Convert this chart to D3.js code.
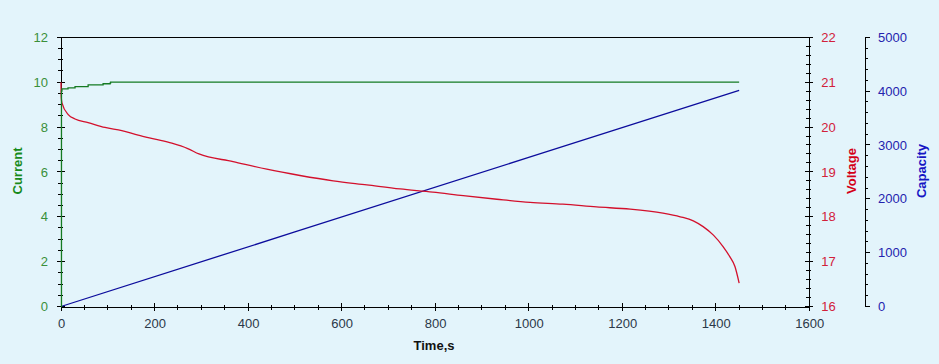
<!DOCTYPE html>
<html>
  <head>
    <title>Discharge curve</title>
    <script src="https://d3js.org/d3.v7.min.js"></script>
    <style>
      body { margin: 0; background: #e3f4fb; }
      svg { display: block; font-family: Arial, "Liberation Sans", sans-serif; }
    </style>
  </head>
  <body>
    <svg width="939" height="364"></svg>
    <script>
      // values
      const currentTime = [0, 1, 2, 15, 30, 58, 90, 105, 106, 1450];
      const current     = [0, 9.6, 9.7, 9.75, 9.8, 9.88, 9.93, 9.96, 10, 10];

      const voltageTime = [0, 0.5, 2, 16, 30, 58, 94, 130, 165, 201, 237, 271, 295,
                           368, 440, 511, 582, 654, 725, 795, 860, 932, 1003, 1073,
                           1145, 1217, 1287, 1324, 1352, 1373, 1395, 1416, 1430, 1441, 1450];
      const voltage     = [21.0, 20.67, 20.54, 20.27, 20.18, 20.10, 19.99, 19.92, 19.82, 19.73, 19.64, 19.52, 19.40,
                           19.23, 19.06, 18.92, 18.80, 18.71, 18.62, 18.55, 18.47, 18.39, 18.32, 18.28,
                           18.22, 18.17, 18.08, 18.00, 17.91, 17.78, 17.59, 17.33, 17.11, 16.89, 16.52];

      const capacityTime = [0, 500, 1000, 1450];
      const capacity     = [0, 1385, 2770, 4015];

      const timeTicks = [0, 200, 400, 600, 800, 1000, 1200, 1400, 1600];
      const currentTicks = [0, 2, 4, 6, 8, 10, 12];
      const voltageTicks = [16, 17, 18, 19, 20, 21, 22];
      const capacityTicks = [0, 1000, 2000, 3000, 4000, 5000];

      const svg = d3.select("svg");
      const plotL = 61, plotR = 809.3, plotT = 37.3, plotB = 306.5;

      const x = d3.scaleLinear().domain([0, 1600]).range([plotL, plotR]);
      const yCur = d3.scaleLinear().domain([0, 12]).range([plotB, plotT]);
      const yVolt = d3.scaleLinear().domain([16, 22]).range([plotB, plotT]);
      const yCap = d3.scaleLinear().domain([0, 5000]).range([plotB, plotT]);

      svg.append("rect").attr("width", 939).attr("height", 364).attr("fill", "#e3f4fb");

      // frame top line
      svg.append("line")
        .attr("x1", plotL).attr("x2", plotR).attr("y1", plotT).attr("y2", plotT)
        .attr("stroke", "#000").attr("shape-rendering", "crispEdges");

      function range(a, b, step) {
        const out = [];
        for (let v = a; v <= b + 1e-9; v += step) out.push(+v.toFixed(4));
        return out;
      }

      // vertical axis: ticks can stick out on both sides
      function vAxis(scale, xPos, majors, minorStep, opt) {
        const g = svg.append("g").attr("transform", `translate(${xPos},0)`);
        const axis = (opt.side === "left" ? d3.axisLeft(scale) : d3.axisRight(scale))
          .tickValues(majors).tickSize(0).tickPadding(opt.pad).tickFormat(d3.format("d"));
        g.call(axis);
        g.select(".domain").attr("stroke", "#000").attr("shape-rendering", "crispEdges");
        g.selectAll(".tick text").attr("fill", opt.color).style("font-size", "13px").style("font-family", "Arial, 'Liberation Sans', sans-serif");
        g.selectAll(".tick line").remove();
        const minors = range(scale.domain()[0], scale.domain()[1], minorStep)
          .filter(v => !majors.some(m => Math.abs(m - v) < 1e-6));
        g.selectAll(".maj").data(majors).join("line")
          .attr("x1", -opt.majL).attr("x2", opt.majR)
          .attr("y1", d => scale(d)).attr("y2", d => scale(d))
          .attr("stroke", "#000").attr("shape-rendering", "crispEdges");
        g.selectAll(".min").data(minors).join("line")
          .attr("x1", -opt.minL).attr("x2", opt.minR)
          .attr("y1", d => scale(d)).attr("y2", d => scale(d))
          .attr("stroke", "#000").attr("shape-rendering", "crispEdges");
        return g;
      }

      vAxis(yCur, plotL, currentTicks, 0.5, {side: "left", pad: 13, color: "#3a8f3a", majL: 4, majR: 4, minL: 3, minR: 2});
      vAxis(yVolt, plotR, voltageTicks, 0.2, {side: "right", pad: 12, color: "#d2203a", majL: 4, majR: 4, minL: 3, minR: 2});
      vAxis(yCap, 865, capacityTicks, 200, {side: "right", pad: 13, color: "#2323ae", majL: 0, majR: 5, minL: 0, minR: 3});

      // bottom axis
      const gx = svg.append("g").attr("transform", `translate(0,${plotB})`);
      gx.call(d3.axisBottom(x).tickValues(timeTicks).tickSize(0).tickPadding(12).tickFormat(d3.format("d")));
      gx.select(".domain").attr("stroke", "#000").attr("shape-rendering", "crispEdges");
      gx.selectAll(".tick line").remove();
      gx.selectAll(".tick text").attr("fill", "#2b3848").style("font-size", "13px").style("font-family", "Arial, 'Liberation Sans', sans-serif");
      const xMinors = range(0, 1600, 50).filter(v => v % 200 !== 0);
      gx.selectAll(".maj").data(timeTicks).join("line")
        .attr("x1", d => x(d)).attr("x2", d => x(d)).attr("y1", -4).attr("y2", 4)
        .attr("stroke", "#000").attr("shape-rendering", "crispEdges");
      gx.selectAll(".min").data(xMinors).join("line")
        .attr("x1", d => x(d)).attr("x2", d => x(d)).attr("y1", -2).attr("y2", 3)
        .attr("stroke", "#000").attr("shape-rendering", "crispEdges");

      // series
      const line = (ys) => d3.line().x(d => x(d[0])).y(d => ys(d[1]));
      const zip = (a, b) => a.map((v, i) => [v, b[i]]);

      svg.append("path").datum(zip(capacityTime, capacity))
        .attr("d", line(yCap)).attr("fill", "none").attr("stroke", "#0c0c9c").attr("stroke-width", 1.3);
      svg.append("path").datum(zip(voltageTime, voltage))
        .attr("d", line(yVolt).curve(d3.curveMonotoneX)).attr("fill", "none").attr("stroke", "#d3102c").attr("stroke-width", 1.3);
      svg.append("path").datum(zip(currentTime, current))
        .attr("d", line(yCur).curve(d3.curveStepAfter)).attr("fill", "none").attr("stroke", "#157a22").attr("stroke-width", 1.3);

      // titles
      const title = (txt, tx, ty, rot, color) => svg.append("text")
        .attr("transform", `translate(${tx},${ty}) rotate(${rot})`)
        .attr("text-anchor", "middle").attr("dominant-baseline", "central")
        .attr("fill", color).attr("font-weight", "bold").style("font-size", "13px")
        .text(txt);
      title("Current", 17, 171, -90, "#178a1a");
      title("Voltage", 851, 171, -90, "#d40018");
      title("Capacity", 921, 171, -90, "#1616c4");
      title("Time,s", 434, 345, 0, "#111");
    </script>
  </body>
</html>
